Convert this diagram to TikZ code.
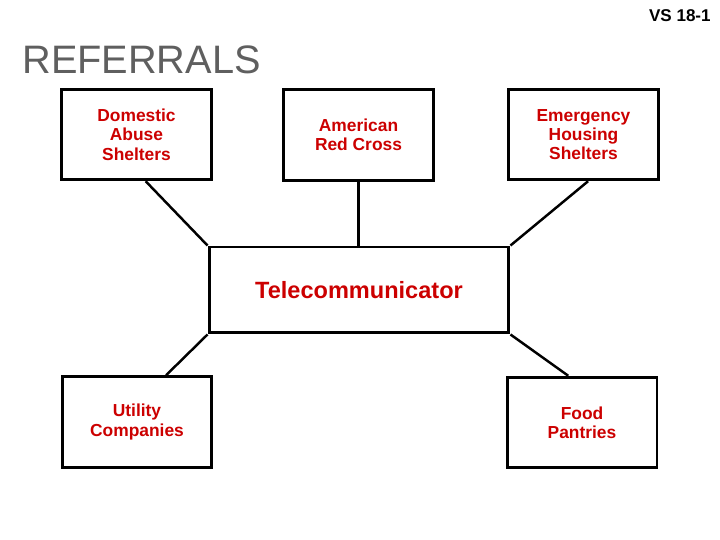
\documentclass[tikz,border=0pt]{standalone}
\usepackage{fontspec}
\setmainfont{Liberation Sans}
\usepackage{xcolor}
\usetikzlibrary{calc}
\definecolor{refred}{HTML}{CC0000}
\definecolor{refgray}{HTML}{5F5F5F}

\begin{document}
\begin{tikzpicture}[
  x=0.02cm,y=-0.02cm,
  agency/.style={draw=black,line width=1.7pt,fill=white,minimum width=3.0cm,minimum height=1.81cm,
    align=center,text=refred,font=\fontsize{9.9}{11}\selectfont\bfseries,inner sep=0pt},
  hub/.style={draw=black,line width=1.7pt,fill=white,minimum width=6.0cm,minimum height=1.72cm,
    text=refred,font=\fontsize{13.4}{15}\selectfont\bfseries,inner sep=0pt},
  link/.style={draw=black,line width=1.4pt},
]
\useasboundingbox (0,0) rectangle (720,540);

% headings
\node[anchor=base west,font=\fontsize{22.6}{26}\selectfont,text=refgray,inner sep=0pt] (title) at (22,74) {REFERRALS};
\node[anchor=base east,font=\fontsize{9.7}{11}\selectfont\bfseries,inner sep=0pt] (slide) at (711,22) {VS 18-1};

% referral agencies round the telecommunicator
\node[agency] (dom) at (136.5,134.5) {Domestic\\Abuse\\Shelters};
\node[agency] (arc) at (358.5,135) {American\\Red Cross};
\node[agency] (ehs) at (583.5,134.5) {Emergency\\Housing\\Shelters};
\node[hub] (tel) at (359,290) {Telecommunicator};
\node[agency] (util) at (137,422) {Utility\\Companies};
\node[agency] (food) at (582,422.5) {Food\\Pantries};

\draw[link] ($(dom.south west)!0.56!(dom.south east)$) -- (tel.north west);
\draw[link] (arc.south) -- (arc.south |- tel.north);
\draw[link] ($(ehs.south west)!0.53!(ehs.south east)$) -- (tel.north east);
\draw[link] (tel.south west) -- ($(util.north west)!0.69!(util.north east)$);
\draw[link] (tel.south east) -- ($(food.north west)!0.41!(food.north east)$);
\end{tikzpicture}
\end{document}
